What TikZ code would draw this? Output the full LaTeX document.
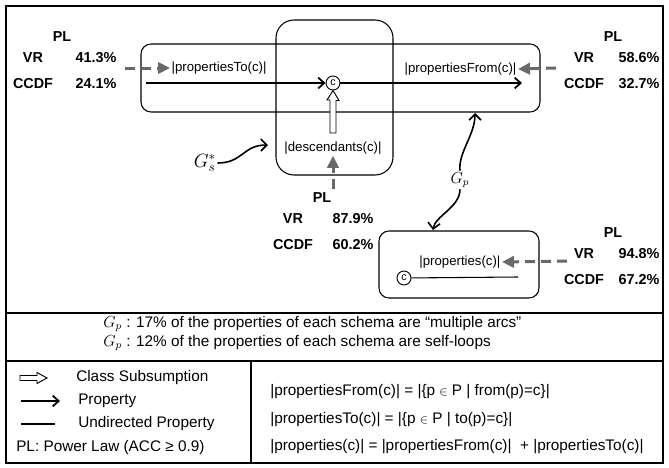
\documentclass[tikz,border=0pt]{standalone}
\usepackage{fontspec}
\setmainfont{Liberation Sans}
\usetikzlibrary{arrows.meta,calc}

\definecolor{plgray}{RGB}{105,105,105}
\tikzset{
  every node/.style={font=\fontsize{9.9}{11}\selectfont, inner sep=1pt},
  plnum/.style={font=\fontsize{10.8}{12}\bfseries\selectfont},
  cnode/.style={draw, circle, inner sep=0pt, minimum size=10.5pt, line width=0.7pt, font=\fontsize{8}{9}\selectfont},
  prop/.style={line width=1.3pt, -{Straight Barb[length=4.5pt, width=8pt]}},
  plarrow/.style={plgray, line width=2.25pt, dash pattern=on 7.5pt off 4.5pt, -{Triangle[length=9pt, width=8.5pt]}},
  box/.style={line width=0.8pt, rounded corners=7.5pt},
  txt/.style={font=\fontsize{11.5}{13}\selectfont, inner sep=0pt},
  gcurve/.style={line width=1.2pt, -{Straight Barb[length=4.5pt, width=9pt]}},
}

\begin{document}
\begin{tikzpicture}[x=0.75pt, y=-0.75pt]
\useasboundingbox (0,0) rectangle (669,468);

% frame and table rules
\draw[line width=1.1pt] (6,6) rectangle (663,463);
\draw[line width=1.1pt] (6,313) -- (663,313);
\draw[line width=1.1pt] (6,361) -- (663,361);
\draw[line width=1.1pt] (251,361) -- (251,463);

% boxes
\draw[box] (141,44) rectangle (540,112);
\draw[box, rounded corners=13.5pt] (276,20) rectangle (393,175);
\draw[box] (379,231) rectangle (539,298);

% class c with its properties
\node[cnode] (c) at (333,83) {c};
\coordinate (tostart) at (146,83);
\coordinate (fromend) at (522,83);
\draw[prop] (tostart) -- (c);
\draw[prop] (c) -- (fromend);

\node[anchor=west] (propto) at (170,68) {|propertiesTo(c)|};
\node[anchor=east] (propfrom) at (518,69) {|propertiesFrom(c)|};

% subsumption
\coordinate (subbase) at (333,133);
\draw[fill=white, line width=0.7pt] (c.south) -- ++(6,10) -- ++(-3,0) -- (subbase -| 336,0) -- (subbase -| 330,0) -- (330,100) -- (327,100) -- cycle;
\node (desc) at (333,148) {|descendants(c)|};

% PL values
\foreach \n/\x/\y/\dx/\vr/\cc in {a/62/37/34/41.3/24.1, b/613/37/26/58.6/32.7, m/322/198/31/87.9/60.2, d/613/233/26/94.8/67.2}
{
  \node[plnum] (pl\n) at (\x,\y) {PL};
  \node[plnum] (vr\n) at ($(pl\n)+(-29,21)$) {VR};
  \node[plnum] (vrv\n) at ($(pl\n)+(\dx,21)$) {\vr\%};
  \node[plnum] (cc\n) at ($(pl\n)+(-29,47)$) {CCDF};
  \node[plnum] (ccv\n) at ($(pl\n)+(\dx,47)$) {\cc\%};
}

\coordinate (toin) at (125,68);
\draw[plarrow] (toin) -- (propto.west);
\coordinate (fromin) at (556,68);
\draw[plarrow] (fromin) -- (propfrom.east);
\coordinate (descin) at (333,189);
\draw[plarrow] (descin) -- (desc.south);

% graph labels
\node[font=\fontsize{14}{14}\selectfont] (gs) at (205,163) {$G_s^*$};
\coordinate (gsend) at (268,145);
\draw[gcurve] (gs.east) .. controls +(25,0) and +(-25,0) .. (gsend);

\node[font=\fontsize{12}{12}\selectfont] (gp) at (460,180) {$G_p$};
\coordinate (gptop) at (475,113);
\coordinate (gpbot) at (433,230);
\draw[gcurve] (gp.north) .. controls +(-2,-18) and +(0,22) .. (gptop);
\draw[gcurve] (gp.south) .. controls +(0,18) and +(2,-14) .. (gpbot);

% undirected properties
\node[cnode] (c2) at (404,278) {c};
\coordinate (undend) at (518,277);
\draw[line width=0.8pt] (c2) -- (undend);
\node[anchor=east] (props) at (502,262) {|properties(c)|};
\coordinate (propsin) at (567,261);
\draw[plarrow] (propsin) -- (props.east);

% notes
\node[txt, anchor=west] (note1) at (103,324) {{\fontsize{12}{12}\selectfont$G_p$} : 17\% of the properties of each schema are “multiple arcs”};
\node[txt, anchor=west] (note2) at (103,343) {{\fontsize{12}{12}\selectfont$G_p$} : 12\% of the properties of each schema are self-loops};

% legend
\draw[fill=white, line width=0.7pt] (20,375.5) -- (37,375.5) -- (37,372.5) -- (47,378) -- (37,383.5) -- (37,380.5) -- (20,380.5) -- cycle;
\node[txt, anchor=west] (lsub) at (76,378) {Class Subsumption};
\coordinate (lpa) at (21,401);
\coordinate (lpb) at (60,401);
\draw[prop] (lpa) -- (lpb);
\node[txt, anchor=west] (lprop) at (78,401) {Property};
\coordinate (lua) at (21,424);
\coordinate (lub) at (55,424);
\draw[line width=0.8pt] (lua) -- (lub);
\node[txt, anchor=west] (lund) at (78,424) {Undirected Property};
\node[txt, anchor=west] (lpl) at (16,448) {PL: Power Law (ACC ≥ 0.9)};

% definitions
\node[txt, anchor=west] (dfrom) at (270,392) {|propertiesFrom(c)| = |\{p {\small$\in$} P | from(p)=c\}|};
\node[txt, anchor=west] (dto) at (270,420) {|propertiesTo(c)| = |\{p {\small$\in$} P | to(p)=c\}|};
\node[txt, anchor=west] (dall) at (270,447) {|properties(c)| = |propertiesFrom(c)|~ + |propertiesTo(c)|};
\end{tikzpicture}
\end{document}
